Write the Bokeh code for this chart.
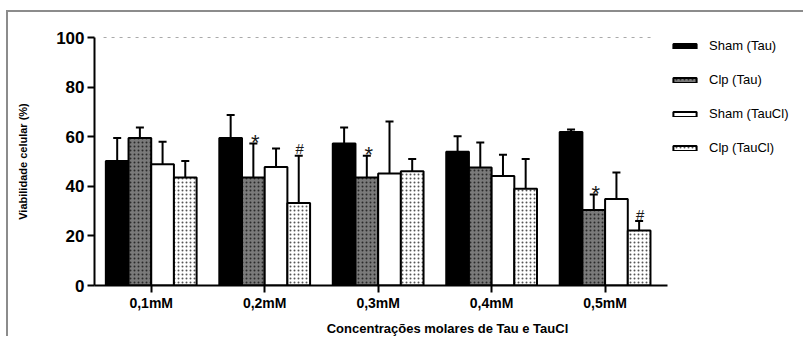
from bokeh.plotting import figure
from bokeh.models import (ColumnDataSource, Whisker, TeeHead, FixedTicker,
                          Legend, LegendItem, Range1d)
from bokeh.core.properties import value
from bokeh.embed import file_html
from bokeh.resources import INLINE

categories = ["0,1mM", "0,2mM", "0,3mM", "0,4mM", "0,5mM"]
series_names = ["Sham (Tau)", "Clp (Tau)", "Sham (TauCl)", "Clp (TauCl)"]
sham_tau = [50.2, 59.5, 57.3, 53.9, 61.9]
sham_tau_err = [9.3, 9.2, 6.4, 6.3, 1.0]
clp_tau = [59.5, 43.5, 43.5, 47.6, 30.4]
clp_tau_err = [4.2, 13.8, 8.8, 10.1, 6.3]
sham_taucl = [48.9, 47.8, 45.2, 44.2, 34.9]
sham_taucl_err = [9.1, 7.4, 20.9, 8.5, 10.7]
clp_taucl = [43.5, 33.3, 46.1, 39.0, 22.2]
clp_taucl_err = [6.7, 19.0, 4.9, 12.0, 3.8]
star_marks = ["", "*", "*", "", "*"]      # above Clp (Tau)
hash_marks = ["", "#", "", "", "#"]       # above Clp (TauCl)
y_ticks = [0, 20, 40, 60, 80, 100]
reference_level = 100

FONT = "Liberation Sans"
W, H = 797, 326
LEFT, RIGHT = 86, 5
AXIS_START, AXIS_END = -0.5, 4.55
AXIS_PX = 573                       # pixel length of the drawn x axis
FRAME_PX = W - LEFT - RIGHT         # frame is wider so the legend fits inside it
X_END = AXIS_START + (AXIS_END - AXIS_START) * FRAME_PX / AXIS_PX

p = figure(width=W, height=H, output_backend="svg", toolbar_location=None,
           x_range=Range1d(AXIS_START, X_END), y_range=Range1d(0, 100),
           min_border_left=LEFT, min_border_top=25, min_border_bottom=53,
           min_border_right=RIGHT)
p.margin = (10, 0, 0, 6)
p.styles = {"border-top": "2px solid #8c8c8c", "border-left": "2px solid #8c8c8c"}
p.outline_line_color = None
p.grid.visible = False
p.background_fill_color = "white"
p.border_fill_color = "white"

styles = [
    dict(fill_color="black"),
    dict(fill_color="#7a7a7a", hatch_pattern="dot", hatch_color="#2a2a2a", hatch_scale=4, hatch_weight=1),
    dict(fill_color="white"),
    dict(fill_color="white", hatch_pattern="dot", hatch_color="#555555", hatch_scale=4, hatch_weight=1),
]
values = [sham_tau, clp_tau, sham_taucl, clp_taucl]
errs = [sham_tau_err, clp_tau_err, sham_taucl_err, clp_taucl_err]
offsets = [-0.3, -0.1, 0.1, 0.3]
bw = 0.2

# dashed 100 % reference line across the bar groups
n = len(categories)
p.line(x=[offsets[0] - bw / 2 - 0.02, (n - 1) + offsets[-1] + bw / 2 + 0.03],
       y=[reference_level, reference_level], line_color="#555555", line_width=1,
       line_dash="3 5")

items = []
sources = []
for name, vals, er, off, st in zip(series_names, values, errs, offsets, styles):
    src = ColumnDataSource(dict(
        x=[i + off for i in range(n)],
        top=vals,
        upper=[v + e for v, e in zip(vals, er)],
    ))
    sources.append(src)
    r = p.vbar(x="x", top="top", width=bw, source=src, line_color="black",
               line_width=2, **st)
    items.append(LegendItem(label=name, renderers=[r]))
    w = Whisker(source=src, base="x", lower="top", upper="upper",
                lower_head=None, upper_head=TeeHead(size=8, line_width=2, line_color="black"),
                line_width=2, line_color="black", level="overlay")
    p.add_layout(w)

# significance marks
s1 = ColumnDataSource(dict(x=sources[1].data["x"], y=sources[1].data["upper"], t=star_marks))
p.text(x="x", y="y", text="t", source=s1, text_align="center", text_baseline="alphabetic",
       x_offset=2, y_offset=-1, text_font=value(FONT), text_font_size="22px", text_color="#1a1a1a")
s3 = ColumnDataSource(dict(x=sources[3].data["x"], y=sources[3].data["upper"], t=hash_marks))
p.text(x="x", y="y", text="t", source=s3, text_align="center", text_baseline="alphabetic",
       x_offset=1, y_offset=-7, text_font=value(FONT), text_font_size="15px", text_color="#1a1a1a")

legend = Legend(items=items, location=(AXIS_PX + 3, 130), padding=0, margin=0,
                border_line_color=None, background_fill_alpha=0,
                glyph_width=29, glyph_height=6, label_height=15, spacing=19,
                label_standoff=10, label_text_font=FONT, label_text_font_size="13px",
                label_text_color="black")
p.add_layout(legend, "center")

# axes
for ax in (p.xaxis[0], p.yaxis[0]):
    ax.axis_line_width = 2
    ax.axis_line_color = "black"
    ax.major_tick_line_width = 2
    ax.major_tick_line_color = "black"
    ax.major_tick_in = 0
    ax.major_tick_out = 7
    ax.minor_tick_line_color = None
    ax.major_label_text_font = FONT
    ax.major_label_text_font_style = "bold"
    ax.major_label_text_color = "black"
    ax.axis_label_text_font = FONT
    ax.axis_label_text_font_style = "bold"
    ax.axis_label_text_color = "black"

p.xaxis.bounds = (AXIS_START, AXIS_END)
p.xaxis.ticker = FixedTicker(ticks=list(range(n)))
p.xaxis.major_label_overrides = {i: c for i, c in enumerate(categories)}
p.xaxis.major_label_text_font_size = "14px"
p.xaxis.major_label_standoff = 2
p.xaxis.axis_label = "Concentrações molares de Tau e TauCl"
p.xaxis.axis_label_text_font_size = "13px"
p.xaxis.axis_label_standoff = 7

p.yaxis.ticker = FixedTicker(ticks=y_ticks)
p.yaxis.major_label_text_font_size = "17px"
p.yaxis.major_label_standoff = 3
p.yaxis.axis_label = "Viabilidade celular (%)"
p.yaxis.axis_label_text_font_size = "11px"
p.yaxis.axis_label_standoff = 24

open("out.html", "w").write(file_html(p, INLINE))
